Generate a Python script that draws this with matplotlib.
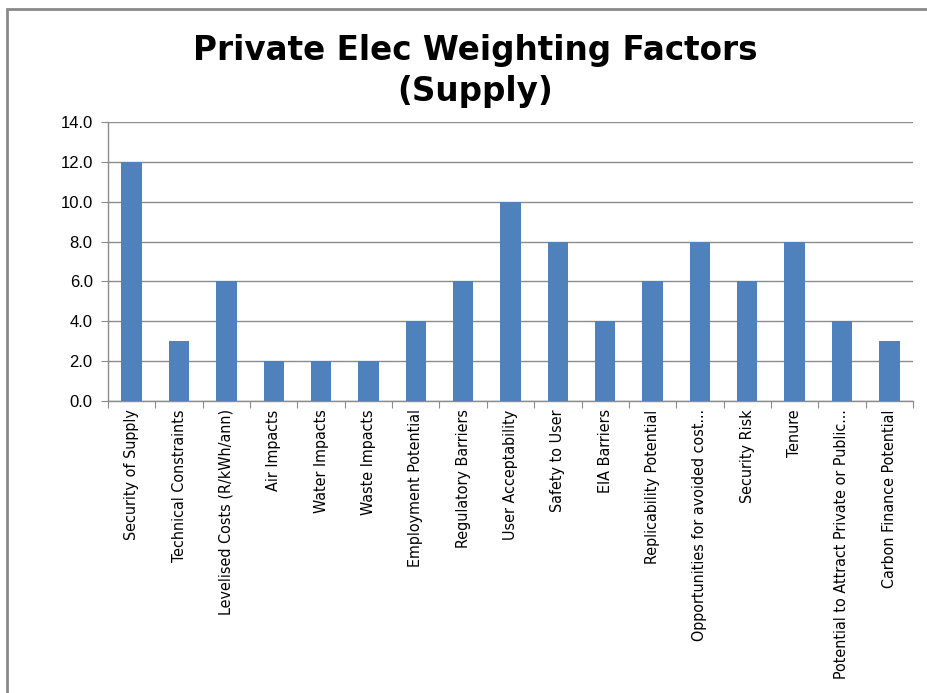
import numpy as np
import matplotlib
matplotlib.use("Agg")
import matplotlib.pyplot as plt
from matplotlib.patches import Rectangle

categories = [
    "Security of Supply", "Technical Constraints", "Levelised Costs (R/kWh/ann)",
    "Air Impacts", "Water Impacts", "Waste Impacts", "Employment Potential",
    "Regulatory Barriers", "User Acceptability", "Safety to User", "EIA Barriers",
    "Replicability Potential", "Opportunities for avoided cost...", "Security Risk",
    "Tenure", "Potential to Attract Private or Public...", "Carbon Finance Potential",
]
weights = [12, 3, 6, 2, 2, 2, 4, 6, 10, 8, 4, 6, 8, 6, 8, 4, 3]
y_ticks = [0, 2, 4, 6, 8, 10, 12, 14]

bar_color = "#4F81BD"
grid_color = "#8c8c8c"

fig = plt.figure(figsize=(9.28, 6.93), dpi=100)
fig.patch.set_facecolor("white")

# outer chart border (cut off on the right and bottom)
fig.add_artist(Rectangle((7 / 928, -0.05), 1.2, 1 - 9 / 693 + 0.05,
                         transform=fig.transFigure, fill=False,
                         edgecolor="#8a8a8a", linewidth=2))

ax = fig.add_axes([108 / 928, 1 - 401 / 693, (913 - 108) / 928, (401 - 122) / 693])
x = np.arange(len(categories))
ax.bar(x, weights, width=0.43, color=bar_color, zorder=3)

ax.set_xlim(-0.5, len(categories) - 0.5)
ax.set_ylim(0, 14)
ax.set_yticks(y_ticks)
ax.set_yticklabels([f"{v:.1f}" for v in y_ticks], fontsize=12, family=["Liberation Sans", "DejaVu Sans"])
ax.yaxis.grid(True, color=grid_color, linewidth=1, zorder=0)
ax.set_axisbelow(True)

# category ticks sit on the boundaries between bars
ax.set_xticks(np.arange(len(categories) + 1) - 0.5)
ax.set_xticklabels([])
ax.set_xticks(x, minor=True)
ax.set_xticklabels(categories, minor=True, rotation=90, fontsize=11.5,
                   family="DejaVu Sans", fontstretch="condensed", va="top", ha="center")
ax.tick_params(axis="x", which="minor", length=0, pad=6)
ax.tick_params(axis="x", which="major", length=5, color=grid_color)
ax.tick_params(axis="y", length=5, color=grid_color, pad=6)

for side in ["top", "right"]:
    ax.spines[side].set_visible(False)
for side in ["left", "bottom"]:
    ax.spines[side].set_color(grid_color)
    ax.spines[side].set_linewidth(1)

fig.text(0.512, 1 - 71 / 693, "Private Elec Weighting Factors\n(Supply)",
         ha="center", va="center", fontsize=23.5, fontweight="bold",
         family="DejaVu Sans", linespacing=1.27)

fig.savefig("out.png", dpi=100)
